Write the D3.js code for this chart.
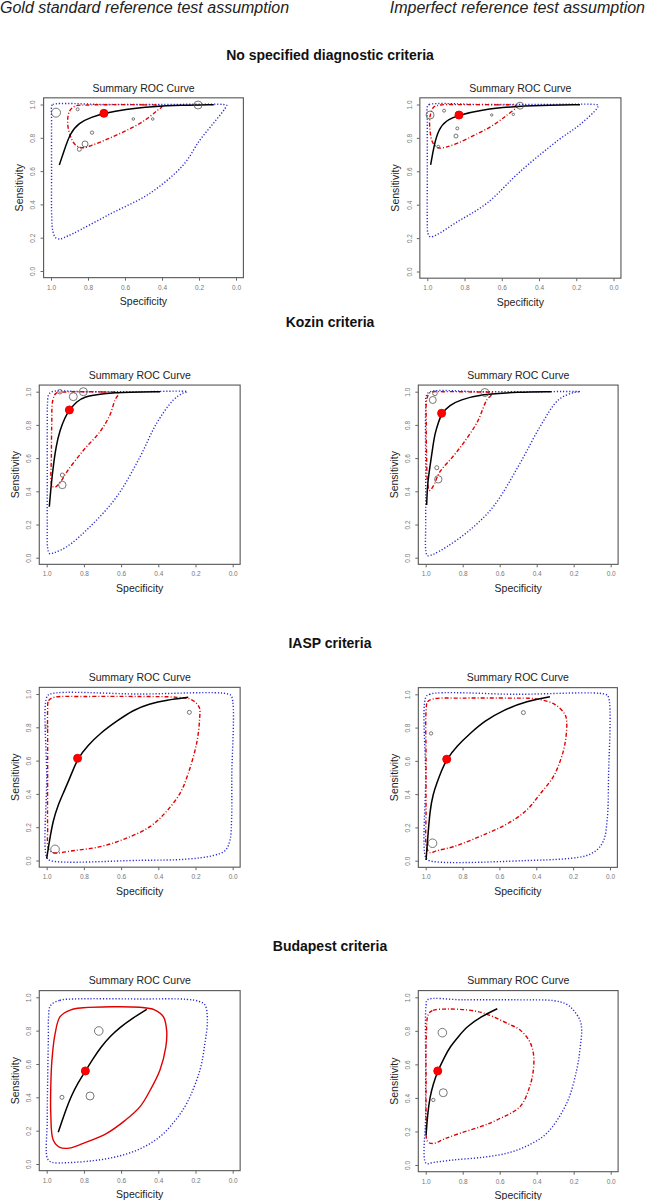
<!DOCTYPE html>
<html>
<head>
<meta charset="UTF-8">
<title>Summary ROC curves</title>
<script src="https://cdnjs.cloudflare.com/ajax/libs/d3/7.8.5/d3.min.js"></script>
<style>
  html, body { margin: 0; padding: 0; background: #fff; }
  svg { display: block; font-family: "Liberation Sans", Arial, sans-serif; }
  .box { fill: none; stroke: #555; stroke-width: 1.1; }
  .axis line { stroke: #666; }
  .axis text { fill: #777; }
  .pred { fill: none; stroke: #2a2ad0; stroke-width: 1.4; stroke-dasharray: 1.2 1.9; }
  .cred { fill: none; stroke: #e00000; stroke-width: 1.4; stroke-dasharray: 4 2 1 2; }
  .cred.solid { stroke-dasharray: none; }
  .sroc { fill: none; stroke: #000; stroke-width: 1.5; }
  .study { fill: none; stroke: #555; stroke-width: 0.8; }
  .summary { fill: #f00; stroke: #e00; }
</style>
</head>
<body>
<div id="container"></div>
<script>
// labels
const columns = ["Gold standard reference test assumption", "Imperfect reference test assumption"];
const sections = ["No specified diagnostic criteria", "Kozin criteria", "IASP criteria", "Budapest criteria"];
const tickValues = [1.0, 0.8, 0.6, 0.4, 0.2, 0.0];

// [specificity, sensitivity, relative study size]
const noneGoldStudies = [[0.973,0.951,10],[0.856,0.971,1.1],[0.778,0.831,1.4],[0.816,0.763,4.4],[0.847,0.731,2],[0.555,0.913,0.8],[0.45,0.913,0.8],[0.205,0.997,7.9]];
const noneGoldSummary = [0.714, 0.947];
const noneGoldSroc = [[0.955,0.637],[0.93,0.72],[0.897,0.827],[0.85,0.89],[0.78,0.925],[0.714,0.947],[0.6,0.972],[0.45,0.988],[0.3,0.996],[0.12,0.999]];
const noneGoldCred = [[0.40,0.99],[0.5,0.998],[0.65,0.999],[0.8,0.997],[0.87,0.99],[0.9,0.96],[0.91,0.89],[0.895,0.81],[0.87,0.76],[0.83,0.74],[0.78,0.755],[0.7,0.79],[0.6,0.84],[0.5,0.9],[0.43,0.96]];
const noneGoldPred = [[0.996,0.99],[0.99,1.0],[0.7,1.0],[0.4,1.0],[0.07,1.0],[0.05,0.995],[0.06,0.975],[0.12,0.89],[0.195,0.787],[0.285,0.637],[0.465,0.467],[0.681,0.342],[0.879,0.226],[0.93,0.2],[0.951,0.192],[0.975,0.2],[0.99,0.24],[0.996,0.32],[0.997,0.6],[0.997,0.9]];

const noneImpStudies = [[0.985,0.937,7.9],[0.502,0.993,6],[0.91,0.963,1.1],[0.839,0.857,1.1],[0.846,0.811,2],[0.654,0.937,0.7],[0.538,0.941,0.7],[0.941,0.747,1.1]];
const noneImpSummary = [0.83, 0.937];
const noneImpSroc = [[0.982,0.638],[0.965,0.75],[0.94,0.85],[0.9,0.905],[0.83,0.937],[0.7,0.97],[0.55,0.987],[0.4,0.995],[0.18,0.999]];
const noneImpCred = [[0.52,0.99],[0.62,0.998],[0.8,0.999],[0.93,0.997],[0.965,0.985],[0.985,0.93],[0.985,0.84],[0.97,0.77],[0.94,0.74],[0.9,0.745],[0.84,0.767],[0.75,0.815],[0.66,0.867],[0.58,0.93]];
const noneImpPred = [[0.999,0.99],[0.99,1.0],[0.7,1.0],[0.4,1.0],[0.1,1.0],[0.082,0.995],[0.09,0.975],[0.18,0.88],[0.296,0.787],[0.5,0.6],[0.681,0.408],[0.85,0.29],[0.95,0.22],[0.985,0.208],[0.997,0.23],[1.0,0.3],[1.0,0.6],[1.0,0.9]];

const kozinGoldStudies = [[0.929,1.0,2.6],[0.857,0.97,7.9],[0.803,1.0,7.9],[0.916,0.438,6.8],[0.916,0.498,2]];
const kozinGoldSummary = [0.878, 0.89];
const kozinGoldSroc = [[0.986,0.307],[0.975,0.45],[0.965,0.548],[0.95,0.67],[0.929,0.769],[0.9,0.85],[0.878,0.89],[0.84,0.94],[0.8,0.97],[0.7,0.99],[0.55,0.998],[0.39,1.0]];
const kozinGoldCred = [[0.615,0.99],[0.7,0.998],[0.8,1.0],[0.9,0.998],[0.95,0.99],[0.967,0.95],[0.973,0.8],[0.975,0.6],[0.977,0.47],[0.97,0.43],[0.955,0.425],[0.93,0.45],[0.89,0.52],[0.8,0.65],[0.713,0.76],[0.66,0.86],[0.633,0.95]];
const kozinGoldPred = [[0.245,1.0],[0.5,1.0],[0.8,1.0],[0.97,1.0],[0.99,0.98],[0.996,0.92],[0.997,0.8],[0.997,0.5],[0.997,0.2],[0.995,0.06],[0.985,0.025],[0.96,0.03],[0.892,0.066],[0.767,0.187],[0.624,0.367],[0.498,0.608],[0.409,0.81],[0.319,0.95],[0.27,0.99]];

const kozinImpStudies = [[0.962,0.95,6],[0.95,0.99,2.6],[0.68,0.995,7.9],[0.94,0.542,2],[0.932,0.472,6.8]];
const kozinImpSummary = [0.914, 0.87];
const kozinImpSroc = [[0.995,0.317],[0.99,0.45],[0.977,0.548],[0.96,0.68],[0.95,0.749],[0.93,0.82],[0.914,0.87],[0.87,0.92],[0.815,0.95],[0.7,0.985],[0.5,0.998],[0.32,1.0]];
const kozinImpCred = [[0.64,0.99],[0.75,0.998],[0.9,1.0],[0.975,0.995],[0.993,0.96],[0.997,0.8],[0.995,0.6],[0.99,0.45],[0.98,0.405],[0.96,0.43],[0.923,0.518],[0.86,0.6],[0.797,0.689],[0.72,0.82],[0.67,0.95]];
const kozinImpPred = [[0.165,1.0],[0.4,1.0],[0.7,1.0],[0.975,1.0],[0.995,0.98],[1.0,0.9],[1.0,0.5],[1.0,0.2],[0.999,0.04],[0.99,0.012],[0.96,0.02],[0.886,0.066],[0.761,0.167],[0.635,0.307],[0.49,0.569],[0.382,0.789],[0.283,0.95],[0.2,0.995]];

const iaspGoldStudies = [[0.955,0.067,9.1],[0.233,0.89,2],[1.0,0.804,1.1]];
const iaspGoldSummary = [0.834, 0.614];
const iaspGoldSroc = [[1.0,0.013],[0.985,0.12],[0.965,0.243],[0.94,0.33],[0.911,0.404],[0.87,0.51],[0.834,0.614],[0.78,0.69],[0.713,0.764],[0.62,0.84],[0.534,0.904],[0.45,0.94],[0.355,0.964],[0.239,0.98]];
const iaspGoldCred = [[0.995,0.9],[0.99,0.96],[0.96,0.98],[0.8,0.985],[0.5,0.985],[0.3,0.98],[0.22,0.965],[0.18,0.92],[0.178,0.85],[0.194,0.704],[0.24,0.52],[0.283,0.404],[0.36,0.29],[0.445,0.203],[0.58,0.13],[0.713,0.083],[0.85,0.06],[0.965,0.047],[0.99,0.07],[0.995,0.2],[0.995,0.5],[0.995,0.75]];
const iaspGoldPred = [[1.0,0.98],[0.98,1.0],[0.5,1.0],[0.025,1.0],[0.006,0.985],[0.005,0.5],[0.006,0.25],[0.015,0.12],[0.04,0.06],[0.104,0.03],[0.25,0.008],[0.5,0.001],[0.98,0.0],[1.0,0.02],[1.0,0.5]];

const iaspImpStudies = [[0.963,0.105,9.1],[0.971,0.765,1.4],[0.47,0.89,2]];
const iaspImpSummary = [0.886, 0.61];
const iaspImpSroc = [[0.998,0.004],[0.99,0.12],[0.977,0.305],[0.96,0.4],[0.94,0.465],[0.915,0.54],[0.886,0.61],[0.83,0.69],[0.76,0.764],[0.68,0.84],[0.579,0.905],[0.45,0.96],[0.326,0.985]];
const iaspImpCred = [[0.998,0.9],[0.99,0.955],[0.96,0.972],[0.8,0.977],[0.55,0.977],[0.4,0.972],[0.3,0.94],[0.245,0.88],[0.235,0.835],[0.244,0.705],[0.27,0.6],[0.308,0.504],[0.38,0.4],[0.453,0.303],[0.56,0.22],[0.67,0.163],[0.85,0.084],[0.94,0.06],[0.977,0.048],[0.995,0.08],[0.998,0.3],[0.998,0.6]];
const iaspImpPred = [[1.0,0.98],[0.98,1.0],[0.5,1.0],[0.025,1.0],[0.009,0.985],[0.008,0.5],[0.015,0.25],[0.035,0.12],[0.072,0.064],[0.13,0.03],[0.217,0.014],[0.4,0.003],[0.98,0.0],[1.0,0.02],[1.0,0.5]];

const budaGoldStudies = [[0.72,0.798,9.1],[0.767,0.408,7.9],[0.918,0.4,2]];
const budaGoldSummary = [0.792, 0.558];
const budaGoldSroc = [[0.938,0.19],[0.905,0.3],[0.868,0.41],[0.83,0.49],[0.792,0.558],[0.752,0.63],[0.71,0.7],[0.66,0.765],[0.606,0.82],[0.54,0.874],[0.462,0.928]];
const budaGoldCred = [[0.928,0.884],[0.87,0.925],[0.803,0.937],[0.65,0.943],[0.5,0.94],[0.42,0.925],[0.373,0.884],[0.355,0.8],[0.36,0.7],[0.391,0.564],[0.44,0.45],[0.498,0.344],[0.58,0.26],[0.677,0.184],[0.803,0.124],[0.88,0.095],[0.93,0.1],[0.965,0.144],[0.978,0.3],[0.978,0.464],[0.972,0.62],[0.955,0.78]];
const budaGoldPred = [[0.98,0.95],[0.93,0.982],[0.85,0.99],[0.5,0.99],[0.25,0.988],[0.18,0.975],[0.149,0.954],[0.136,0.864],[0.15,0.72],[0.176,0.564],[0.247,0.364],[0.31,0.26],[0.391,0.164],[0.5,0.09],[0.624,0.044],[0.75,0.02],[0.892,0.008],[0.97,0.01],[0.995,0.03],[0.997,0.264],[0.995,0.5],[0.991,0.764],[0.99,0.88]];

const budaImpStudies = [[0.91,0.789,9.1],[0.905,0.431,7.9],[0.959,0.388,1.4]];
const budaImpSummary = [0.935, 0.561];
const budaImpSroc = [[0.998,0.179],[0.99,0.3],[0.977,0.407],[0.96,0.48],[0.935,0.561],[0.9,0.64],[0.869,0.705],[0.82,0.77],[0.778,0.825],[0.7,0.885],[0.613,0.932]];
const budaImpCred = [[0.985,0.9],[0.96,0.922],[0.886,0.93],[0.778,0.925],[0.7,0.91],[0.635,0.884],[0.55,0.84],[0.49,0.805],[0.44,0.74],[0.418,0.666],[0.418,0.567],[0.44,0.46],[0.49,0.348],[0.616,0.268],[0.7,0.23],[0.815,0.189],[0.9,0.155],[0.96,0.128],[0.99,0.14],[0.997,0.25],[0.998,0.5],[0.997,0.75]];
const budaImpPred = [[0.998,0.95],[0.99,0.985],[0.8,0.985],[0.5,0.985],[0.31,0.98],[0.24,0.96],[0.202,0.924],[0.165,0.86],[0.157,0.805],[0.165,0.7],[0.184,0.566],[0.238,0.368],[0.346,0.189],[0.45,0.115],[0.562,0.07],[0.7,0.045],[0.851,0.03],[0.96,0.015],[0.998,0.01],[1.0,0.3],[1.0,0.6]];

const panels = [
  {studies: noneGoldStudies, summary: noneGoldSummary, sroc: noneGoldSroc, cred: noneGoldCred, pred: noneGoldPred},
  {studies: noneImpStudies, summary: noneImpSummary, sroc: noneImpSroc, cred: noneImpCred, pred: noneImpPred},
  {studies: kozinGoldStudies, summary: kozinGoldSummary, sroc: kozinGoldSroc, cred: kozinGoldCred, pred: kozinGoldPred},
  {studies: kozinImpStudies, summary: kozinImpSummary, sroc: kozinImpSroc, cred: kozinImpCred, pred: kozinImpPred},
  {studies: iaspGoldStudies, summary: iaspGoldSummary, sroc: iaspGoldSroc, cred: iaspGoldCred, pred: iaspGoldPred},
  {studies: iaspImpStudies, summary: iaspImpSummary, sroc: iaspImpSroc, cred: iaspImpCred, pred: iaspImpPred},
  {studies: budaGoldStudies, summary: budaGoldSummary, sroc: budaGoldSroc, cred: budaGoldCred, pred: budaGoldPred, solid: true},
  {studies: budaImpStudies, summary: budaImpSummary, sroc: budaImpSroc, cred: budaImpCred, pred: budaImpPred}
];

// pixel frame of each plot: where spec/sens 1 and 0 fall
const frames = [
  {x1: 51, x0: 236, y1: 104.5, y0: 271},
  {x1: 427.3, x0: 613.5, y1: 104.5, y0: 271.5},
  {x1: 46.7, x0: 232.7, y1: 391.7, y0: 557.7},
  {x1: 425.7, x0: 610.7, y1: 391.7, y0: 557.7},
  {x1: 46.7, x0: 232.7, y1: 694, y0: 860.5},
  {x1: 425.7, x0: 610, y1: 694.3, y0: 860.7},
  {x1: 46.7, x0: 232.7, y1: 997.3, y0: 1164},
  {x1: 425.7, x0: 610.7, y1: 997.3, y0: 1165}
];
const sectionY = [60, 327, 648, 951];

const W = 647, H = 1200;
const svg = d3.select("#container").append("svg").attr("width", W).attr("height", H);
const rScale = d3.scaleSqrt().domain([0, 10]).range([0, 4.5]);

// column headers
svg.append("text").attr("x", 0).attr("y", 13).attr("font-size", 16).attr("font-style", "italic")
  .attr("fill", "#222").text(columns[0]);
svg.append("text").attr("x", 645).attr("y", 13).attr("font-size", 16).attr("font-style", "italic")
  .attr("text-anchor", "end").attr("fill", "#222").text(columns[1]);

sections.forEach((s, i) => {
  svg.append("text").attr("x", 330).attr("y", sectionY[i]).attr("text-anchor", "middle")
    .attr("font-size", 14).attr("font-weight", "bold").attr("fill", "#111").text(s);
});

function drawPanel(p, f) {
  const x = d3.scaleLinear().domain([1, 0]).range([f.x1, f.x0]);
  const y = d3.scaleLinear().domain([0, 1]).range([f.y0, f.y1]);
  const g = svg.append("g");
  const bl = x(1.04), br = x(-0.04), bt = y(1.04), bb = y(-0.04);

  const open = d3.line().x(d => x(d[0])).y(d => y(d[1])).curve(d3.curveBasis);
  const closed = d3.line().x(d => x(d[0])).y(d => y(d[1])).curve(d3.curveCatmullRomClosed.alpha(0.5));

  g.append("path").attr("class", "pred").attr("d", closed(p.pred));
  g.append("path").attr("class", p.solid ? "cred solid" : "cred").attr("d", closed(p.cred));
  g.append("path").attr("class", "sroc").attr("d", open(p.sroc));

  g.selectAll(".study").data(p.studies).enter().append("circle")
    .attr("class", "study")
    .attr("cx", d => x(d[0])).attr("cy", d => y(d[1])).attr("r", d => rScale(d[2]));

  g.append("circle").attr("class", "summary")
    .attr("cx", x(p.summary[0])).attr("cy", y(p.summary[1])).attr("r", 4);

  g.append("rect").attr("class", "box").attr("x", bl).attr("y", bt)
    .attr("width", br - bl).attr("height", bb - bt);

  const xa = g.append("g").attr("class", "axis").attr("transform", "translate(0," + bb + ")")
    .call(d3.axisBottom(x).tickValues(tickValues).tickFormat(d3.format(".1f")).tickSize(3).tickPadding(4.5));
  xa.select(".domain").remove();
  xa.attr("font-size", 6.5).attr("font-family", null);

  const ya = g.append("g").attr("class", "axis").attr("transform", "translate(" + bl + ",0)")
    .call(d3.axisLeft(y).tickValues(tickValues.slice().reverse()).tickFormat(d3.format(".1f")).tickSize(3));
  ya.select(".domain").remove();
  ya.attr("font-size", 6.5).attr("font-family", null);
  ya.selectAll("text").attr("x", null).attr("dy", null)
    .attr("text-anchor", "middle").attr("transform", "translate(-8.2,0) rotate(-90)");

  g.append("text").attr("x", (bl + br) / 2).attr("y", f.y1 - 13).attr("text-anchor", "middle")
    .attr("font-size", 10.5).attr("fill", "#222").text("Summary ROC Curve");
  g.append("text").attr("x", (bl + br) / 2).attr("y", f.y0 + 34).attr("text-anchor", "middle")
    .attr("font-size", 10.5).attr("fill", "#222").text("Specificity");
  g.append("text").attr("text-anchor", "middle").attr("font-size", 10.5).attr("fill", "#222")
    .attr("transform", "translate(" + (bl - 20.5) + "," + ((f.y0 + f.y1) / 2) + ") rotate(-90)")
    .text("Sensitivity");
}

panels.forEach((p, i) => drawPanel(p, frames[i]));
</script>
</body>
</html>
